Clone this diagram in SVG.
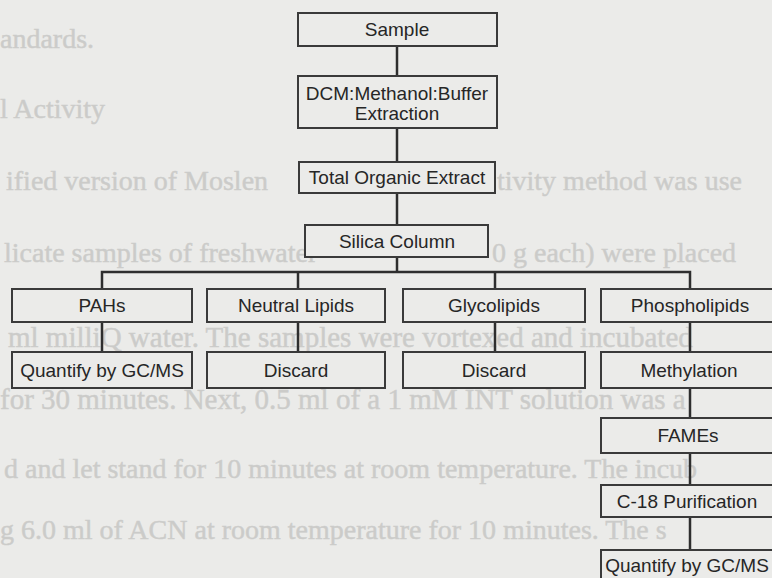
<svg xmlns="http://www.w3.org/2000/svg" width="772" height="578" viewBox="0 0 772 578">
<style>
.bg{fill:#ebebe9}
.faint{font-family:"Liberation Serif",serif;font-size:28px;fill:#cbcbc9;stroke:#cdcdcb;stroke-width:0.5}
.box{fill:#ebebe9;stroke:#3a3a3a;stroke-width:2}
.lbl{font-family:"Liberation Sans",Arial,sans-serif;font-size:19px;fill:#262626;text-anchor:middle}
.con{stroke:#2e2e2e;stroke-width:2.5;fill:none}
</style>
<rect class="bg" x="0" y="0" width="772" height="578"/>
<g id="page-text">
<text class="faint" x="0" y="48">andards.</text>
<text class="faint" x="0" y="118">l Activity</text>
<text class="faint" x="6" y="190">ified version of Moslen</text>
<text class="faint" x="497" y="190">tivity method was use</text>
<text class="faint" x="4" y="262">licate samples of freshwater</text>
<text class="faint" x="492" y="262">0 g each) were placed</text>
<text class="faint" x="8" y="347" style="font-size:29px">ml milliQ water. The samples were vortexed and incubated</text>
<text class="faint" x="0" y="409" style="font-size:29px">for 30 minutes. Next, 0.5 ml of a 1 mM INT solution was a</text>
<text class="faint" x="4" y="478">d and let stand for 10 minutes at room temperature. The incub</text>
<text class="faint" x="0" y="539">g 6.0 ml of ACN at room temperature for 10 minutes. The s</text>
</g>
<g id="connectors">
<line class="con" x1="397" y1="46" x2="397" y2="76"/>
<line class="con" x1="397" y1="128" x2="397" y2="162"/>
<line class="con" x1="397" y1="193" x2="397" y2="225"/>
<line class="con" x1="397" y1="257" x2="397" y2="272"/>
<polyline class="con" points="102,289 102,272 690,272 690,289"/>
<line class="con" x1="298" y1="272" x2="298" y2="289"/>
<line class="con" x1="495" y1="272" x2="495" y2="289"/>
<line class="con" x1="102" y1="322" x2="102" y2="352"/>
<line class="con" x1="298" y1="322" x2="298" y2="352"/>
<line class="con" x1="495" y1="322" x2="495" y2="352"/>
<line class="con" x1="690" y1="322" x2="690" y2="352"/>
<line class="con" x1="690" y1="388" x2="690" y2="418"/>
<line class="con" x1="690" y1="453" x2="690" y2="485"/>
<line class="con" x1="690" y1="517" x2="690" y2="550"/>
</g>
<g id="sample"><rect class="box" x="298" y="13" width="199" height="33"/><text class="lbl" x="397" y="36">Sample</text></g>
<g id="extraction"><rect class="box" x="298" y="76" width="199" height="52"/><text class="lbl" x="397" y="100">DCM:Methanol:Buffer</text><text class="lbl" x="397" y="120">Extraction</text></g>
<g id="total-organic-extract"><rect class="box" x="299" y="162" width="196" height="31"/><text class="lbl" x="397" y="184">Total Organic Extract</text></g>
<g id="silica-column"><rect class="box" x="305" y="225" width="183" height="32"/><text class="lbl" x="397" y="248">Silica Column</text></g>
<g id="pahs"><rect class="box" x="12" y="289" width="180" height="33"/><text class="lbl" x="102" y="312">PAHs</text></g>
<g id="neutral-lipids"><rect class="box" x="207" y="289" width="178" height="33"/><text class="lbl" x="296" y="312">Neutral Lipids</text></g>
<g id="glycolipids"><rect class="box" x="403" y="289" width="182" height="33"/><text class="lbl" x="494" y="312">Glycolipids</text></g>
<g id="phospholipids"><rect class="box" x="601" y="289" width="180" height="33"/><text class="lbl" x="690" y="312">Phospholipids</text></g>
<g id="quantify-pahs"><rect class="box" x="12" y="352" width="180" height="36"/><text class="lbl" x="102" y="377">Quantify by GC/MS</text></g>
<g id="discard-neutral"><rect class="box" x="207" y="352" width="178" height="36"/><text class="lbl" x="296" y="377">Discard</text></g>
<g id="discard-glyco"><rect class="box" x="403" y="352" width="182" height="36"/><text class="lbl" x="494" y="377">Discard</text></g>
<g id="methylation"><rect class="box" x="601" y="352" width="180" height="36"/><text class="lbl" x="689" y="377">Methylation</text></g>
<g id="fames"><rect class="box" x="601" y="418" width="180" height="35"/><text class="lbl" x="688" y="442">FAMEs</text></g>
<g id="c18"><rect class="box" x="601" y="485" width="180" height="32"/><text class="lbl" x="687" y="508">C-18 Purification</text></g>
<g id="quantify-fames"><rect class="box" x="601" y="550" width="180" height="36"/><text class="lbl" x="687" y="572">Quantify by GC/MS</text></g>
</svg>
